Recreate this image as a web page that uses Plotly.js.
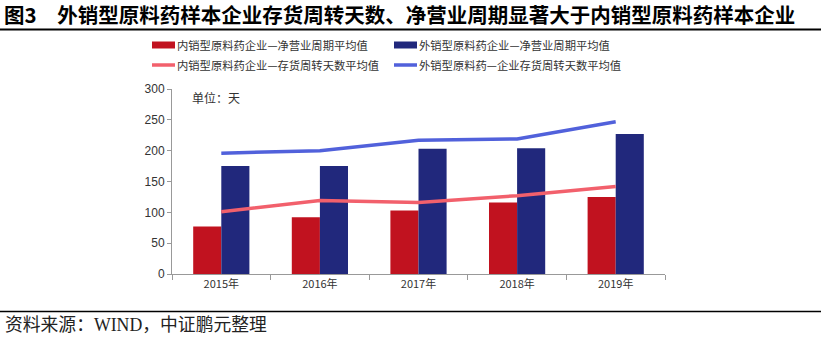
<!DOCTYPE html>
<html><head><meta charset="utf-8">
<script src="https://cdn.plot.ly/plotly-3.0.1.min.js"></script>
<style>html,body{margin:0;padding:0;background:#fff;}#chart{width:821px;height:338px;}</style>
</head><body><div id="chart"></div>
<script>
const years = ['2015年','2016年','2017年','2018年','2019年'];
const domesticNetCycle = [77, 92, 103, 116, 125];
const exportNetCycle = [175, 175, 203, 204, 227];
const domesticInvDays = [101, 119, 116, 127, 142];
const exportInvDays = [196, 200, 217, 219, 247];
const seriesNames = ['内销型原料药企业—净营业周期平均值','外销型原料药企业—净营业周期平均值','内销型原料药企业—存货周转天数平均值','外销型原料药—企业存货周转天数平均值'];
const colors = ['#C1121F','#21287C','#F2606C','#5161DB'];
const titleText = '图3　外销型原料药样本企业存货周转天数、净营业周期显著大于内销型原料药样本企业';
const sourceText = '资料来源：WIND，中证鹏元整理';
const unitText = '单位：天';

const L=172, R=665, T=89, B=274;
const px = X => (X-L)/(R-L);
const py = Y => (B-Y)/(B-T);
const cjk = '"Noto Sans CJK SC", "Liberation Sans", sans-serif';

const traces = [
  {type:'bar', x:years, y:domesticNetCycle, name:seriesNames[0], marker:{color:colors[0]}},
  {type:'bar', x:years, y:exportNetCycle, name:seriesNames[1], marker:{color:colors[1]}},
  {type:'scatter', mode:'lines', x:years, y:domesticInvDays, name:seriesNames[2], line:{color:colors[2], width:3.5}},
  {type:'scatter', mode:'lines', x:years, y:exportInvDays, name:seriesNames[3], line:{color:colors[3], width:3.5}}
];

const shapes = [
  {type:'line', xref:'paper', yref:'paper', x0:px(0), x1:px(821), y0:py(29.5), y1:py(29.5), line:{color:'#000', width:2}},
  {type:'line', xref:'paper', yref:'paper', x0:px(0), x1:px(821), y0:py(311.5), y1:py(311.5), line:{color:'#000', width:1.5}}
];
const annotations = [
  {xref:'paper', yref:'paper', x:px(190), y:py(97), xanchor:'left', yanchor:'middle', text:unitText, showarrow:false, font:{family:cjk, size:12, color:'#333'}},
  {xref:'paper', yref:'paper', x:px(3), y:py(325), xanchor:'left', yanchor:'middle', text:sourceText, showarrow:false, font:{family:'"Liberation Serif", "Noto Sans CJK SC", serif', size:17.8, color:'#222'}}
];
const legPos = [[152,45],[394,45],[152,65],[394,65]];
seriesNames.forEach((n,i)=>{
  const [sx,sy]=legPos[i];
  if(i<2){
    shapes.push({type:'rect', xref:'paper', yref:'paper', x0:px(sx), x1:px(sx+23), y0:py(sy+3.5), y1:py(sy-3.5), fillcolor:colors[i], line:{width:0}});
  } else {
    shapes.push({type:'line', xref:'paper', yref:'paper', x0:px(sx), x1:px(sx+23), y0:py(sy), y1:py(sy), line:{color:colors[i], width:3.5}});
  }
  annotations.push({xref:'paper', yref:'paper', x:px(sx+23), y:py(sy), xanchor:'left', yanchor:'middle', text:n, showarrow:false, font:{family:cjk, size:11.3, color:'#333'}});
});

const layout = {
  width:821, height:338,
  margin:{l:L, r:821-R, t:T, b:338-B, pad:0},
  paper_bgcolor:'#fff', plot_bgcolor:'#fff',
  showlegend:false,
  barmode:'group', bargap:0.43, bargroupgap:0,
  title:{text:'<b>'+titleText+'</b>', xref:'container', yref:'container', x:0.005, xanchor:'left', y:1-15.5/338, yanchor:'middle', font:{family:cjk, size:20.5, color:'#000'}},
  xaxis:{type:'category', showline:true, linecolor:'#999', linewidth:1, ticks:'outside', tickson:'boundaries', ticklen:5, tickcolor:'#999', showgrid:false, tickfont:{family:cjk, size:11, color:'#333'}},
  yaxis:{range:[0,300], dtick:50, showline:true, linecolor:'#999', linewidth:1, ticks:'outside', ticklen:4, tickcolor:'#999', showgrid:false, zeroline:false, tickfont:{family:'"Liberation Sans", Arial, sans-serif', size:12, color:'#333'}},
  shapes:shapes, annotations:annotations
};
Plotly.newPlot('chart', traces, layout, {displayModeBar:false, staticPlot:true});
</script></body></html>
